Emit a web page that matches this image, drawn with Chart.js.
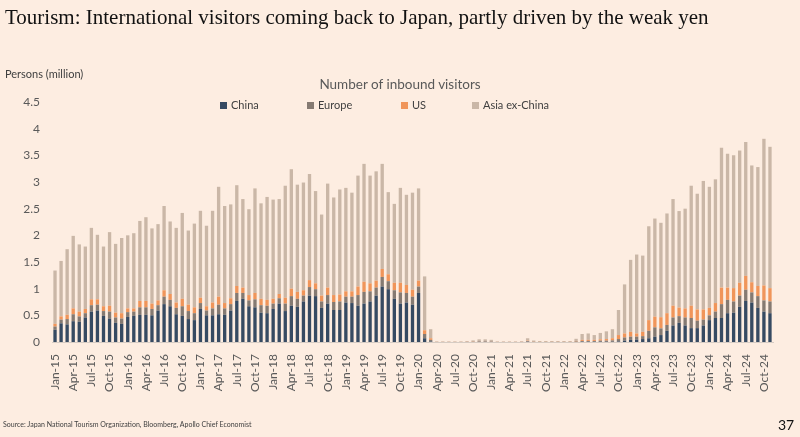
<!DOCTYPE html>
<html>
<head>
<meta charset="utf-8">
<script src="https://cdn.jsdelivr.net/npm/chart.js@4"></script>
<style>
  html, body { margin: 0; padding: 0; }
  body { width: 800px; height: 437px; background: #fdede1; position: relative; overflow: hidden; font-family: Lato, "Open Sans", sans-serif; }
  #wrap { position: absolute; left: 0; top: 0; width: 800px; height: 437px; }
  .txt { position: absolute; white-space: nowrap; }
  #title { left: 5px; top: 5px; font-family: "Liberation Serif", serif; font-size: 21px; color: #111; }
  #unit { left: 5px; top: 67px; font-size: 11px; color: #404040; }
  #legTitle { left: 0; width: 800px; text-align: center; top: 76px; font-size: 13.5px; color: #595959; }
  .leg { position: absolute; top: 98px; font-size: 11px; color: #404040; }
  .leg i { display: inline-block; width: 7px; height: 7px; margin-right: 4px; vertical-align: 0px; }
  #source { left: 3px; top: 420px; font-size: 7px; color: #404040; }
  #page { left: 778px; top: 416px; font-size: 14px; color: #111; }
</style>
</head>
<body>
<div id="wrap"><canvas id="chart"></canvas></div>
<div class="txt" id="title">Tourism: International visitors coming back to Japan, partly driven by the weak yen</div>
<div class="txt" id="unit">Persons (million)</div>
<div class="txt" id="legTitle">Number of inbound visitors</div>
<div id="legend"></div>
<div class="txt" id="source">Source: Japan National Tourism Organization, Bloomberg, Apollo Chief Economist</div>
<div class="txt" id="page">37</div>
<script>
// ----------- Data (million persons, monthly Jan-15 .. Nov-24) -----------
const monthNames = ["Jan","Feb","Mar","Apr","May","Jun","Jul","Aug","Sep","Oct","Nov","Dec"];
const years = ["15","16","17","18","19","20","21","22","23","24"];
const monthCount = 119;

const china = [
  0.23,0.35,0.33,0.39,0.38,0.46,0.57,0.59,0.49,0.44,0.36,0.34,
  0.47,0.49,0.51,0.51,0.50,0.59,0.71,0.67,0.52,0.49,0.43,0.41,
  0.62,0.50,0.50,0.52,0.51,0.59,0.77,0.81,0.67,0.65,0.55,0.54,
  0.62,0.72,0.58,0.68,0.66,0.76,0.87,0.86,0.64,0.72,0.60,0.60,
  0.74,0.73,0.68,0.72,0.76,0.87,1.04,0.99,0.81,0.72,0.74,0.70,
  0.92,0.07,0.01,0,0,0,0,0,0,0,0.005,0.005,
  0.003,0,0,0,0,0,0.005,0,0,0,0,0,
  0,0,0,0.005,0.005,0.005,0.005,0.005,0.005,0.01,0.025,0.04,
  0.045,0.055,0.07,0.10,0.13,0.21,0.31,0.36,0.31,0.26,0.26,0.31,
  0.41,0.45,0.45,0.54,0.55,0.66,0.77,0.74,0.64,0.57,0.54
];
const europe = [
  0.06,0.07,0.10,0.13,0.10,0.08,0.12,0.11,0.09,0.13,0.10,0.10,
  0.09,0.08,0.14,0.14,0.12,0.10,0.14,0.12,0.12,0.18,0.15,0.13,
  0.11,0.09,0.13,0.18,0.12,0.12,0.15,0.11,0.11,0.15,0.14,0.14,
  0.10,0.10,0.14,0.18,0.15,0.11,0.16,0.13,0.12,0.16,0.15,0.16,
  0.11,0.12,0.20,0.22,0.19,0.15,0.18,0.15,0.16,0.21,0.18,0.15,
  0.12,0.08,0.03,0.002,0.002,0.002,0.002,0.002,0.003,0.005,0.005,0.005,
  0.004,0.002,0.002,0.002,0.002,0.003,0.01,0.004,0.003,0.003,0.003,0.003,
  0.003,0.003,0.01,0.015,0.015,0.015,0.02,0.02,0.025,0.045,0.06,0.06,
  0.055,0.055,0.14,0.175,0.125,0.11,0.15,0.125,0.15,0.19,0.14,0.11,
  0.09,0.12,0.26,0.25,0.21,0.21,0.21,0.19,0.22,0.21,0.22
];
const us = [
  0.05,0.06,0.08,0.11,0.09,0.08,0.11,0.10,0.09,0.11,0.09,0.10,
  0.07,0.06,0.12,0.12,0.10,0.09,0.12,0.11,0.10,0.14,0.12,0.11,
  0.10,0.08,0.11,0.15,0.10,0.11,0.13,0.10,0.10,0.12,0.12,0.11,
  0.09,0.08,0.11,0.14,0.13,0.10,0.13,0.11,0.11,0.14,0.13,0.13,
  0.10,0.10,0.16,0.19,0.15,0.13,0.15,0.13,0.14,0.18,0.15,0.13,
  0.11,0.07,0.03,0.002,0.002,0.002,0.002,0.002,0.003,0.005,0.005,0.005,
  0.004,0.002,0.002,0.002,0.002,0.003,0.01,0.004,0.003,0.003,0.003,0.003,
  0.003,0.003,0.01,0.02,0.02,0.02,0.025,0.03,0.04,0.075,0.075,0.09,
  0.06,0.08,0.20,0.20,0.21,0.22,0.22,0.16,0.17,0.23,0.21,0.19,
  0.14,0.16,0.31,0.23,0.25,0.24,0.26,0.19,0.19,0.28,0.25
];
const asiaExChina = [
  1.00,1.04,1.23,1.36,1.26,1.17,1.34,1.21,1.12,1.38,1.29,1.41,
  1.37,1.41,1.50,1.57,1.41,1.43,1.58,1.36,1.40,1.61,1.39,1.57,
  1.63,1.51,1.72,2.06,1.82,1.76,1.89,1.66,1.61,1.96,1.79,1.93,
  1.86,1.78,2.10,2.24,2.01,2.02,1.99,1.73,1.52,1.95,1.83,1.97,
  1.94,1.85,2.08,2.21,2.02,2.05,1.97,1.54,1.48,1.78,1.69,1.82,
  1.73,1.01,0.17,0.006,0.006,0.006,0.006,0.006,0.01,0.02,0.035,0.035,
  0.03,0.006,0.006,0.006,0.006,0.006,0.045,0.02,0.012,0.012,0.012,0.012,
  0.012,0.012,0.04,0.11,0.12,0.09,0.12,0.145,0.17,0.47,0.92,1.35,
  1.48,1.43,1.76,1.84,1.77,1.87,2.00,1.81,1.87,2.25,2.17,2.41,
  2.27,2.32,2.62,2.51,2.49,2.48,2.51,2.19,2.23,2.75,2.65
];

const seriesNames = ["China","Europe","US","Asia ex-China"];
const seriesColors = ["#364a62","#857a72","#f0955a","#cab7a7"];
const yTicks = [0,0.5,1,1.5,2,2.5,3,3.5,4,4.5];

// month labels "Jan-15" ...
const labels = [];
for (let i = 0; i < monthCount; i++) {
  labels.push(monthNames[i % 12] + "-" + years[Math.floor(i / 12)]);
}

// ----------- Chart -----------
const values = [china, europe, us, asiaExChina];
const datasets = values.map((d, i) => ({
  label: seriesNames[i],
  data: d,
  backgroundColor: seriesColors[i],
  borderWidth: 0,
  barPercentage: 0.55,
  categoryPercentage: 1.0
}));

const chart = new Chart(document.getElementById("chart"), {
  type: "bar",
  data: { labels: labels, datasets: datasets },
  options: {
    responsive: true,
    maintainAspectRatio: false,
    animation: false,
    layout: { padding: { top: 102, right: 27, bottom: 35, left: 0 } },
    plugins: { legend: { display: false }, tooltip: { enabled: false } },
    scales: {
      x: {
        stacked: true,
        grid: { display: false },
        border: { color: "#d6ccc4" },
        ticks: {
          autoSkip: false, minRotation: 90, maxRotation: 90, padding: 4,
          font: { family: "Lato", size: 12 }, color: "#595959",
          callback: (v, i) => (i % 3 === 0 ? labels[i] : "")
        },
        afterFit: s => { s.height = 60; }
      },
      y: {
        stacked: true,
        min: 0, max: 4.5,
        grid: { display: false, drawTicks: false },
        border: { display: false },
        ticks: {
          font: { family: "Lato", size: 12 }, color: "#595959", padding: 12,
          callback: v => String(v)
        },
        afterBuildTicks: s => { s.ticks = yTicks.map(v => ({ value: v })); },
        afterFit: s => { s.width = 52; }
      }
    }
  }
});

// ----------- HTML legend from the datasets -----------
const legendX = [220, 307, 401, 472];
const legendBox = document.getElementById("legend");
chart.data.datasets.forEach((ds, i) => {
  const el = document.createElement("div");
  el.className = "leg";
  el.style.left = legendX[i] + "px";
  el.innerHTML = '<i style="background:' + ds.backgroundColor + '"></i>' + ds.label;
  legendBox.appendChild(el);
});
</script>
</body>
</html>
